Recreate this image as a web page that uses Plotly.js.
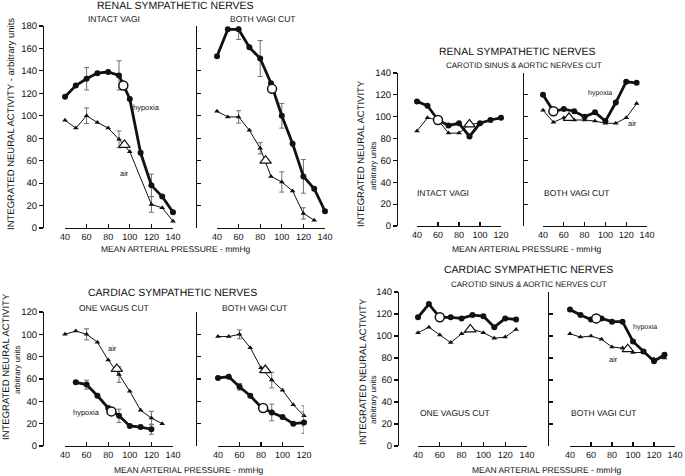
<!DOCTYPE html>
<html><head><meta charset="utf-8">
<script src="https://cdn.plot.ly/plotly-3.0.1.min.js"></script>
<style>
html,body{margin:0;padding:0;background:#fff}
*{-webkit-font-smoothing:antialiased;}
svg text{text-rendering:geometricPrecision;}
</style>
</head><body><div id="chart" style="width:685px;height:476px"></div>
<script>
// ---------- DATA ----------
const xTicks140 = [40,60,80,100,120,140];
const xTicks120 = [40,60,80,100,120];

// Panel 1: renal, intact vagi
const p1HypX = [40,50,60,70,80,90,100,110,120,130,140];
const p1HypY = [117,127,133,138,139,136,115,67,38,28,14];
const p1HypErr = [NaN,NaN,10,NaN,NaN,13,NaN,NaN,10,NaN,NaN];
const p1AirX = [40,50,60,70,80,90,100,120,130,140];
const p1AirY = [96,89,100,94,89,79,68,21,18,6];
const p1AirErr = [NaN,NaN,7,NaN,NaN,7.5,NaN,7,NaN,NaN];
const p1OpenHyp = [[94],[127]];
const p1OpenAir = [[95],[74]];

// Panel 2: renal, both vagi cut
const p2HypX = [40,50,60,70,80,90,100,110,120,130,140];
const p2HypY = [153,177,177,161,151,129,100,75,46,35,15];
const p2HypErr = [NaN,NaN,9,NaN,16,NaN,11,NaN,15,NaN,NaN];
const p2AirX = [40,50,60,70,80,90,100,110,120,130];
const p2AirY = [104,99,99,87,71,46,41,33,13,7];
const p2AirErr = [NaN,NaN,5.5,NaN,5,NaN,9,NaN,5,NaN];
const p2OpenHyp = [[91],[124]];
const p2OpenAir = [[85],[60]];

// Panel 3: renal, sinus & aortic nerves cut, intact vagi
const p3HypX = [40,50,60,70,80,90,100,110,120];
const p3HypY = [114,110,97,92,94,82,94,97,99];
const p3AirX = [40,50,60,70,80,90,100,110,120];
const p3AirY = [87,99,97,85,85,93,94,97,99];
const p3OpenHyp = [[60],[97]];
const p3OpenAir = [[90],[93]];

// Panel 4: renal, sinus & aortic nerves cut, both vagi cut
const p4HypX = [40,50,60,70,80,90,100,110,120,130];
const p4HypY = [120,105,107,105,100,104,96,113,132,131];
const p4AirX = [40,50,60,70,80,90,100,110,120,130];
const p4AirY = [106,95,99,97,97,96,94,94,99,112];
const p4OpenHyp = [[50],[105]];
const p4OpenAir = [[65],[99]];

// Panel 5: cardiac, one vagus cut
const p5AirX = [40,50,60,70,80,90,100,110,120,130];
const p5AirY = [100,103,100,93,77,64,49,32,25,20];
const p5AirErr = [NaN,NaN,5,NaN,NaN,7,NaN,NaN,6,NaN];
const p5HypX = [50,60,70,80,90,100,110,120];
const p5HypY = [57,55,45,34,27,18,17,15];
const p5HypErr = [NaN,4,NaN,NaN,6,NaN,NaN,4.5];
const p5OpenHyp = [[83],[31]];
const p5OpenAir = [[88],[69]];

// Panel 6: cardiac, both vagi cut
const p6AirX = [40,50,60,70,80,90,100,110,120];
const p6AirY = [98,98,100,88,70,59,50,37,27];
const p6AirErr = [NaN,NaN,4,NaN,NaN,7,NaN,NaN,9];
const p6HypX = [40,50,60,70,80,90,100,110,120];
const p6HypY = [61,62,53,45,35,30,26,20,21];
const p6HypErr = [NaN,NaN,3,NaN,NaN,7.5,NaN,NaN,9.6];
const p6OpenHyp = [[82],[34]];
const p6OpenAir = [[84],[68]];

// Panel 7: cardiac, sinus & aortic nerves cut, one vagus cut
const p7HypX = [40,50,60,70,80,90,100,110,120,130];
const p7HypY = [117,129,117,117,116,119,118,108,116,115];
const p7AirX = [40,50,60,70,80,90,100,110,120,130];
const p7AirY = [103,108,101,94,102,106,103,98,99,106];
const p7OpenHyp = [[60],[117]];
const p7OpenAir = [[88],[106]];

// Panel 8: cardiac, sinus & aortic nerves cut, both vagi cut
const p8HypX = [40,50,60,70,80,90,100,110,120,130];
const p8HypY = [124,119,115,116,113,113,95,86,77,83];
const p8AirX = [40,50,60,70,80,90,100,110,120,130];
const p8AirY = [102,99,100,97,90,89,85,85,79,80];
const p8OpenHyp = [[65],[116]];
const p8OpenAir = [[95],[88]];

// ---------- LAYOUT ----------
const W = 685, H = 476;
const FONT = 'Liberation Sans, Arial, sans-serif';
const INK = '#111111';
const px = p => p / W;
const py = p => 1 - p / H;

const panels = [
  {xr:[40,140], xpx:[65,173], yr:[0,180], ypx:[26,228], ypos:43, lab:true, xt:xTicks140,
   hx:p1HypX, hy:p1HypY, he:p1HypErr, ax:p1AirX, ay:p1AirY, ae:p1AirErr, oh:p1OpenHyp, oa:p1OpenAir},
  {xr:[40,140], xpx:[217,325], yr:[0,180], ypx:[26,228], ypos:196, lab:false, xt:xTicks140,
   hx:p2HypX, hy:p2HypY, he:p2HypErr, ax:p2AirX, ay:p2AirY, ae:p2AirErr, oh:p2OpenHyp, oa:p2OpenAir},
  {xr:[40,120], xpx:[417,501], yr:[0,140], ypx:[73,226], ypos:397, lab:true, xt:xTicks120,
   hx:p3HypX, hy:p3HypY, he:null, ax:p3AirX, ay:p3AirY, ae:null, oh:p3OpenHyp, oa:p3OpenAir},
  {xr:[40,140], xpx:[543,647], yr:[0,140], ypx:[73,226], ypos:523, lab:false, xt:xTicks140,
   hx:p4HypX, hy:p4HypY, he:null, ax:p4AirX, ay:p4AirY, ae:null, oh:p4OpenHyp, oa:p4OpenAir},
  {xr:[40,140], xpx:[65,173], yr:[0,120], ypx:[312,446], ypos:43, lab:true, xt:xTicks140,
   hx:p5HypX, hy:p5HypY, he:p5HypErr, ax:p5AirX, ay:p5AirY, ae:p5AirErr, oh:p5OpenHyp, oa:p5OpenAir},
  {xr:[40,120], xpx:[218,304], yr:[0,120], ypx:[312,446], ypos:196, lab:false, xt:xTicks120,
   hx:p6HypX, hy:p6HypY, he:p6HypErr, ax:p6AirX, ay:p6AirY, ae:p6AirErr, oh:p6OpenHyp, oa:p6OpenAir},
  {xr:[40,140], xpx:[418,527], yr:[0,140], ypx:[292,446], ypos:398, lab:true, xt:xTicks140,
   hx:p7HypX, hy:p7HypY, he:null, ax:p7AirX, ay:p7AirY, ae:null, oh:p7OpenHyp, oa:p7OpenAir},
  {xr:[40,140], xpx:[570,675], yr:[0,140], ypx:[292,446], ypos:548, lab:false, xt:xTicks140,
   hx:p8HypX, hy:p8HypY, he:null, ax:p8AirX, ay:p8AirY, ae:null, oh:p8OpenHyp, oa:p8OpenAir}
];

const layout = {
  width: W, height: H,
  margin: {l:0, r:0, t:0, b:0},
  paper_bgcolor: '#fff', plot_bgcolor: 'rgba(0,0,0,0)',
  showlegend: false,
  font: {family: FONT, color: INK},
  annotations: []
};
const traces = [];

panels.forEach((p, i) => {
  const n = i + 1;
  const xa = 'xaxis' + (n === 1 ? '' : n);
  const ya = 'yaxis' + (n === 1 ? '' : n);
  const xr = 'x' + (n === 1 ? '' : n);
  const yr = 'y' + (n === 1 ? '' : n);
  layout[xa] = {
    domain: [px(p.xpx[0]), px(p.xpx[1])], range: p.xr, anchor: yr,
    showgrid: false, zeroline: false, showline: true, linecolor: INK, linewidth: 1.3,
    ticks: 'inside', ticklen: 4, tickwidth: 1.2, tickcolor: INK,
    tickmode: 'array', tickvals: p.xt, ticktext: p.xt.map(String),
    tickfont: {family: FONT, size: 9, color: INK}, fixedrange: true
  };
  layout[ya] = {
    domain: [py(p.ypx[1]), py(p.ypx[0])], range: p.yr, anchor: 'free', position: px(p.ypos),
    showgrid: false, zeroline: false, showline: true, linecolor: INK, linewidth: 1.3,
    ticks: p.lab ? 'outside' : 'inside', ticklen: 4, tickwidth: 1.2, tickcolor: INK,
    dtick: 20, tick0: 0, showticklabels: p.lab,
    tickfont: {family: FONT, size: 9.5, color: INK}, fixedrange: true
  };
  const errStyle = arr => arr ? {type:'data', array: arr, visible: true, color: '#707070', thickness: 1, width: 2.5} : undefined;
  traces.push({
    x: p.ax, y: p.ay, xaxis: xr, yaxis: yr, mode: 'lines+markers', cliponaxis: false,
    line: {color: INK, width: 1}, marker: {symbol: 'triangle-up', size: 5, color: INK},
    error_y: errStyle(p.ae)
  });
  traces.push({
    x: p.hx, y: p.hy, xaxis: xr, yaxis: yr, mode: 'lines+markers', cliponaxis: false,
    line: {color: INK, width: 2.8}, marker: {symbol: 'circle', size: 6, color: INK},
    error_y: errStyle(p.he)
  });
  traces.push({
    x: p.oa[0], y: p.oa[1], xaxis: xr, yaxis: yr, mode: 'markers', cliponaxis: false,
    marker: {symbol: 'triangle-up', size: 10, color: '#fff', line: {color: INK, width: 1.2}}
  });
  traces.push({
    x: p.oh[0], y: p.oh[1], xaxis: xr, yaxis: yr, mode: 'markers', cliponaxis: false,
    marker: {symbol: 'circle', size: 9, color: '#fff', line: {color: INK, width: 1.5}}
  });
});

function txt(t, x, y, size, angle) {
  layout.annotations.push({
    text: t, xref: 'paper', yref: 'paper', x: px(x), y: py(y),
    xanchor: 'center', yanchor: 'middle', showarrow: false, textangle: angle || 0,
    font: {family: FONT, size: size, color: INK}
  });
}
// Renal (top left)
txt('RENAL SYMPATHETIC NERVES', 175, 6, 10.5);
txt('INTACT VAGI', 114, 19, 8.5);
txt('BOTH VAGI CUT', 263, 19, 8.5);
txt('INTEGRATED NEURAL ACTIVITY - arbitrary units', 12, 124, 9.5, -90);
txt('hypoxia', 146, 108, 7.5);
txt('air', 124, 173, 7.5);
txt('MEAN ARTERIAL PRESSURE - mmHg', 176, 249, 8.5);
// Renal (top right)
txt('RENAL SYMPATHETIC NERVES', 517, 52, 10.5);
txt('CAROTID SINUS &amp; AORTIC NERVES CUT', 524, 66, 8);
txt('INTEGRATED NEURAL ACTIVITY', 362, 154, 9.5, -90);
txt('arbitrary units', 373, 166, 8, -90);
txt('INTACT VAGI', 443, 193, 8.5);
txt('BOTH VAGI CUT', 577, 193, 8.5);
txt('hypoxia', 600, 93, 7);
txt('air', 632, 124, 7.5);
txt('MEAN ARTERIAL PRESSURE - mmHg', 527, 249, 8.5);
// Cardiac (bottom left)
txt('CARDIAC SYMPATHETIC NERVES', 172, 293, 10.5);
txt('ONE VAGUS CUT', 114, 308, 8.5);
txt('BOTH VAGI CUT', 255, 308, 8.5);
txt('INTEGRATED NEURAL ACTIVITY', 6, 367, 9.5, -90);
txt('arbitrary units', 17, 370, 8, -90);
txt('air', 113, 348, 7.5);
txt('hypoxia', 87, 412, 7.5);
txt('MEAN ARTERIAL PRESSURE - mmHg', 189, 470, 8.5);
// Cardiac (bottom right)
txt('CARDIAC SYMPATHETIC NERVES', 528, 270, 10.5);
txt('CAROTID SINUS &amp; AORTIC NERVES CUT', 529, 284, 8);
txt('INTEGRATED NEURAL ACTIVITY', 363, 372, 9.5, -90);
txt('arbitrary units', 373, 400, 8, -90);
txt('ONE VAGUS CUT', 455, 413, 8.5);
txt('BOTH VAGI CUT', 604, 413, 8.5);
txt('hypoxia', 645, 327, 7);
txt('air', 613, 359, 7.5);
txt('MEAN ARTERIAL PRESSURE - mmHg', 547, 470, 8.5);

Plotly.newPlot('chart', traces, layout, {displayModeBar: false, staticPlot: true});
</script>
</body></html>
